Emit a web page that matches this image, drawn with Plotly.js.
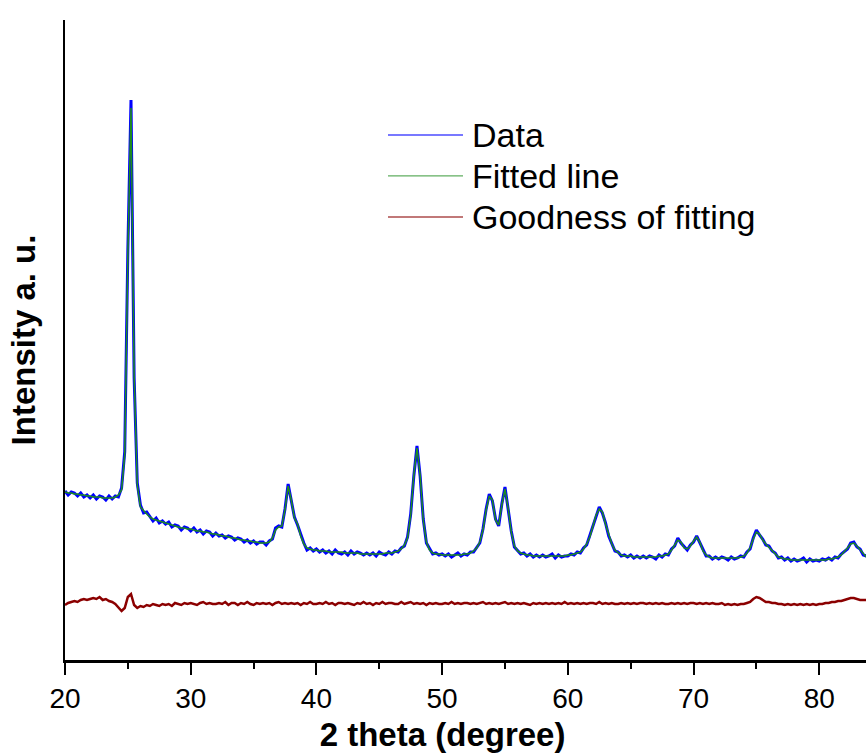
<!DOCTYPE html>
<html>
<head>
<meta charset="utf-8">
<script src="https://cdn.plot.ly/plotly-3.0.1.min.js"></script>
<style>
html,body{margin:0;padding:0;background:#fff;}
#chart{width:866px;height:755px;}
</style>
</head>
<body>
<div id="chart"></div>
<script>
// 2 theta (degree)
const twoTheta = [
20,20.25,20.5,20.75,21,21.25,21.5,21.75,
22,22.25,22.5,22.75,23,23.25,23.5,23.75,
24,24.25,24.5,24.75,25,25.25,25.5,25.75,
26,26.25,26.5,26.75,27,27.25,27.5,27.75,
28,28.25,28.5,28.75,29,29.25,29.5,29.75,
30,30.25,30.5,30.75,31,31.25,31.5,31.75,
32,32.25,32.5,32.75,33,33.25,33.5,33.75,
34,34.25,34.5,34.75,35,35.25,35.5,35.75,
36,36.25,36.5,36.75,37,37.25,37.5,37.75,
38,38.25,38.5,38.75,39,39.25,39.5,39.75,
40,40.25,40.5,40.75,41,41.25,41.5,41.75,
42,42.25,42.5,42.75,43,43.25,43.5,43.75,
44,44.25,44.5,44.75,45,45.25,45.5,45.75,
46,46.25,46.5,46.75,47,47.25,47.5,47.75,
48,48.25,48.5,48.75,49,49.25,49.5,49.75,
50,50.25,50.5,50.75,51,51.25,51.5,51.75,
52,52.25,52.5,52.75,53,53.25,53.5,53.75,
54,54.25,54.5,54.75,55,55.25,55.5,55.75,
56,56.25,56.5,56.75,57,57.25,57.5,57.75,
58,58.25,58.5,58.75,59,59.25,59.5,59.75,
60,60.25,60.5,60.75,61,61.25,61.5,61.75,
62,62.25,62.5,62.75,63,63.25,63.5,63.75,
64,64.25,64.5,64.75,65,65.25,65.5,65.75,
66,66.25,66.5,66.75,67,67.25,67.5,67.75,
68,68.25,68.5,68.75,69,69.25,69.5,69.75,
70,70.25,70.5,70.75,71,71.25,71.5,71.75,
72,72.25,72.5,72.75,73,73.25,73.5,73.75,
74,74.25,74.5,74.75,75,75.25,75.5,75.75,
76,76.25,76.5,76.75,77,77.25,77.5,77.75,
78,78.25,78.5,78.75,79,79.25,79.5,79.75,
80,80.25,80.5,80.75,81,81.25,81.5,81.75,
82,82.25,82.5,82.75,83,83.25,83.5,83.75
];

// Measured data (blue)
const dataIntensity = [
169,165,168,167,164,167,163,165,
162,165,161,164,163,160,164,161,
164,163,172,208,410,560,282,177,
155,147,148,144,139,142,137,139,
136,138,133,135,134,130,133,132,
129,132,128,130,126,129,128,124,
127,124,125,122,124,123,120,122,
121,118,120,117,119,116,118,118,
115,119,121,132,134,133,151,176,
158,143,135,125,117,110,112,109,
111,108,110,107,109,106,110,107,
106,108,105,109,106,108,107,105,
107,105,107,104,108,106,105,108,
106,109,108,112,114,123,146,184,
214,184,141,117,111,106,107,105,
106,104,106,103,105,107,104,106,
105,108,108,113,117,131,151,166,
159,141,134,156,173,151,129,113,
110,106,107,104,106,103,105,103,
105,103,104,106,102,105,103,104,
104,106,105,108,107,112,115,124,
134,144,153,147,137,124,117,109,
108,104,105,103,105,102,104,102,
104,102,104,103,101,105,103,106,
105,111,114,122,117,113,110,115,
118,124,117,110,104,104,101,103,
101,103,102,100,103,101,102,104,
103,108,111,122,130,125,121,115,
114,109,107,102,103,100,102,99,
101,99,100,102,98,101,99,100,
99,101,100,102,100,103,102,106,
109,111,117,118,113,111,105,104
];

// Fitted line (green)
const fittedIntensity = [
168,167,167,166,166,165,165,164,
164,163,163,163,162,162,162,162,
163,165,170,205,405,552,285,175,
153,149,146,143,141,140,139,138,
137,136,135,134,133,132,132,131,
131,130,129,129,128,128,127,126,
126,125,124,124,123,122,122,121,
120,120,119,119,118,118,117,117,
117,118,122,130,133,134,150,174,
160,142,136,124,116,112,111,110,
110,109,109,109,108,108,108,108,
108,107,107,107,107,107,106,106,
106,106,106,106,106,106,107,107,
107,108,109,111,115,122,145,185,
212,185,140,118,110,107,106,106,
105,105,105,105,105,105,105,106,
106,107,109,112,118,130,150,164,
160,140,135,155,171,152,128,114,
109,107,106,105,105,104,104,104,
104,104,104,104,104,104,104,104,
105,105,106,107,108,111,116,123,
133,145,151,148,136,125,116,110,
107,105,104,104,104,103,103,103,
103,103,103,103,103,104,104,105,
106,110,115,120,118,112,111,114,
119,123,118,109,105,103,102,102,
102,102,102,102,102,102,102,103,
104,107,112,121,128,126,120,116,
113,110,106,103,102,101,101,100,
100,100,100,100,100,100,100,100,
100,100,100,101,101,102,103,105,
108,112,116,117,114,110,106,103
];

// Goodness of fitting (residual, dark red)
const residualIntensity = [
55,57,58,59,58,60,61,60,
61,62,61,63,60,61,59,58,
56,53,49,52,63,66,55,52,
54,53,55,54,56,55,54,56,
55,56,54,57,56,55,57,56,
57,56,55,57,58,56,57,56,
56,57,56,58,55,57,57,55,
57,56,58,56,55,57,56,57,
56,57,55,57,58,56,57,56,
57,56,57,55,57,56,58,56,
56,57,56,58,56,57,55,57,
57,56,57,56,55,57,56,58,
56,57,55,57,56,58,56,57,
57,56,56,58,56,57,58,56,
57,56,57,55,57,56,57,56,
56,57,56,58,56,57,56,57,
57,56,57,56,57,58,56,57,
56,57,56,57,58,56,57,56,
57,56,57,56,55,57,56,57,
56,57,56,57,56,57,56,58,
56,57,56,57,56,57,56,57,
57,56,58,56,57,56,57,56,
56,57,56,57,56,57,56,57,
57,56,57,56,57,56,57,56,
56,57,56,57,56,57,56,57,
57,56,57,56,57,56,57,56,
56,57,55,56,55,56,55,56,
56,57,58,61,63,62,60,58,
58,57,57,56,56,55,56,55,
56,55,56,55,56,55,56,55,
56,56,57,57,58,58,59,59,
60,61,62,62,61,60,60,60
];

const xTickVals = [20,30,40,50,60,70,80];
const xTickText = ['20','30','40','50','60','70','80'];
const minorTickVals = [25,35,45,55,65,75];
const seriesNames = ['Data','Fitted line','Goodness of fitting'];
const seriesColors = ['#0000FF','#1E8C1E','#8B0000'];

const FONT = 'Arial, "Liberation Sans", Helvetica, sans-serif';
const NB = '\u00a0';

const traces = [
  {x: twoTheta, y: dataIntensity, name: seriesNames[0], type: 'scatter', mode: 'lines',
   line: {color: seriesColors[0], width: 3}},
  {x: twoTheta, y: fittedIntensity, name: seriesNames[1], type: 'scatter', mode: 'lines',
   line: {color: seriesColors[1], width: 1.5}},
  {x: twoTheta, y: residualIntensity, name: seriesNames[2], type: 'scatter', mode: 'lines',
   line: {color: seriesColors[2], width: 2.5}}
];

// custom legend (long line samples)
const legY = [0.8203, 0.7563, 0.6922];
const shapes = [];
const annotations = [];
for (let i = 0; i < 3; i++) {
  shapes.push({type: 'line', xref: 'paper', yref: 'paper', x0: 0.4032, x1: 0.4969,
    y0: legY[i], y1: legY[i], line: {color: seriesColors[i], width: 1.3}, opacity: 0.7});
  annotations.push({xref: 'paper', yref: 'paper', x: 0.5056, y: legY[i], xanchor: 'left',
    yanchor: 'middle', text: seriesNames[i], showarrow: false,
    font: {family: FONT, size: 34, color: '#000'}});
}

const layout = {
  width: 866, height: 755,
  margin: {l: 65, r: 0, t: 20, b: 95},
  paper_bgcolor: '#fff', plot_bgcolor: '#fff',
  showlegend: false,
  font: {family: FONT, color: '#000'},
  xaxis: {
    range: [20, 83.72],
    tickvals: xTickVals, ticktext: xTickText,
    ticks: 'outside', ticklen: 12, tickwidth: 2, tickcolor: '#000',
    minor: {tickvals: minorTickVals, ticks: 'outside', ticklen: 6, tickwidth: 2, tickcolor: '#000', showgrid: false},
    showline: true, linecolor: '#000', linewidth: 2.5,
    showgrid: false, zeroline: false,
    tickfont: {family: FONT, size: 28, color: '#000'},
    title: {text: '<b>2 theta (degree)' + NB.repeat(5) + '</b>', font: {family: FONT, size: 33, color: '#000'}, standoff: 10}
  },
  yaxis: {
    range: [0, 640],
    showline: true, linecolor: '#000', linewidth: 2.5,
    showgrid: false, zeroline: false,
    ticks: '', showticklabels: false,
    title: {text: '<b>Intensity a. u.</b>', font: {family: FONT, size: 33, color: '#000'}, standoff: 17}
  },
  shapes: shapes,
  annotations: annotations
};

Plotly.newPlot('chart', traces, layout, {displayModeBar: false, staticPlot: true});
</script>
</body>
</html>
